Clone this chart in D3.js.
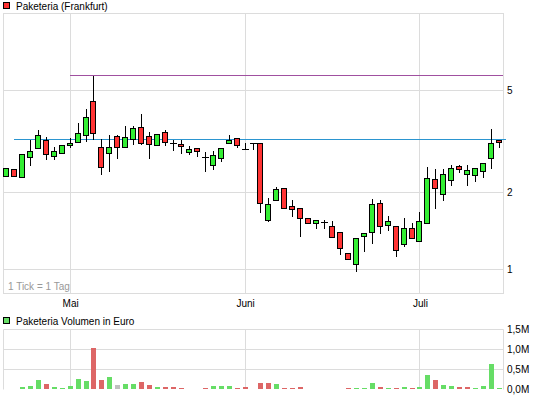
<!DOCTYPE html>
<html>
<head>
<meta charset="utf-8">
<script src="https://cdn.jsdelivr.net/npm/d3@7"></script>
<style>
  body { margin: 0; background: #fff; }
  svg { display: block; font-family: "Liberation Sans", Arial, sans-serif; font-size: 10px; }
</style>
</head>
<body>
<svg id="chart" width="545" height="398"></svg>
<script>
// daily OHLC (Euro), one entry per trading day
const open  = [2.32, 2.45, 2.30, 2.73, 2.97, 3.19, 2.76, 2.84, 3.05, 3.13, 3.34, 4.53, 2.99, 2.84, 3.31, 2.99,
               3.22, 3.58, 3.31, 3.05, 3.43, 3.12, 3.08, 2.86, 2.97, 2.75, 2.54, 2.71, 3.10, 3.25, 2.94, 3.10,
               3.10, 1.55, 1.86, 2.07, 1.77, 1.74, 1.59, 1.51, 1.53, 1.47, 1.40, 1.16, 1.05, 1.35, 1.40, 1.81,
               1.49, 1.47, 1.25, 1.45, 1.29, 1.52, 2.24, 1.96, 2.22, 2.52, 2.35, 2.33, 2.41, 2.71, 3.19];
const high  = [2.48, 2.45, 2.81, 3.20, 3.50, 3.29, 3.01, 3.05, 3.26, 3.72, 4.22, 5.69, 3.22, 3.34, 3.34, 3.62,
               3.62, 4.03, 3.43, 3.37, 3.49, 3.19, 3.20, 3.02, 2.97, 2.86, 2.89, 2.97, 3.34, 3.25, 3.10, 3.10,
               3.10, 1.89, 2.09, 2.07, 1.86, 1.74, 1.59, 1.55, 1.56, 1.54, 1.40, 1.16, 1.32, 1.39, 1.88, 1.86,
               1.62, 1.47, 1.58, 1.51, 1.67, 2.50, 2.45, 2.45, 2.54, 2.54, 2.54, 2.48, 2.59, 3.52, 3.19];
const low   = [2.32, 2.32, 2.30, 2.56, 2.97, 2.70, 2.70, 2.84, 2.99, 3.13, 3.16, 3.22, 2.35, 2.41, 2.71, 2.99,
               3.08, 3.08, 2.71, 3.05, 3.05, 2.91, 2.85, 2.81, 2.76, 2.42, 2.45, 2.64, 3.10, 2.99, 2.94, 2.94,
               1.67, 1.54, 1.86, 1.74, 1.61, 1.35, 1.52, 1.45, 1.45, 1.34, 1.15, 1.10, 0.98, 1.18, 1.27, 1.38,
               1.42, 1.13, 1.23, 1.32, 1.29, 1.52, 1.74, 1.87, 2.14, 2.39, 2.14, 2.20, 2.30, 2.48, 2.99];
const close = [2.48, 2.32, 2.81, 2.89, 3.34, 2.81, 2.89, 3.05, 3.10, 3.40, 3.92, 3.40, 2.50, 2.99, 2.99, 3.28,
               3.55, 3.10, 3.08, 3.37, 3.13, 3.12, 3.02, 2.94, 2.89, 2.75, 2.78, 2.97, 3.19, 3.05, 2.94, 3.10,
               1.82, 1.79, 2.05, 1.74, 1.71, 1.59, 1.52, 1.55, 1.53, 1.34, 1.21, 1.10, 1.32, 1.39, 1.79, 1.48,
               1.54, 1.19, 1.45, 1.32, 1.54, 2.26, 2.07, 2.35, 2.48, 2.45, 2.43, 2.48, 2.59, 3.10, 3.13];
// traded volume in Euro
const volume = [0, 0, 50000, 75000, 225000, 125000, 50000, 25000, 75000, 250000, 200000, 1025000, 225000, 300000, 100000, 125000,
                125000, 175000, 100000, 50000, 50000, 50000, 25000, 0, 0, 25000, 75000, 75000, 75000, 25000, 50000, 0,
                150000, 150000, 125000, 25000, 25000, 50000, 0, 0, 0, 0, 0, 25000, 25000, 25000, 150000, 50000,
                25000, 25000, 50000, 25000, 50000, 350000, 233000, 100000, 75000, 50000, 50000, 25000, 75000, 625000, 25000];

const monthLabels = ['Mai', 'Juni', 'Juli'];
const monthStart = [8, 30, 52];          // day index of first trading day
const priceTicks = [1, 2, 5];
const volumeTicks = [0, 500000, 1000000, 1500000];
const levelValues = [5.72, 3.23];        // drawn horizontal lines
const levelStart = [8, 1];

const svg = d3.select('#chart');
const main = { left: 3, right: 503, top: 13, bottom: 293 };
const vol = { top: 329, bottom: 389 };
const grid = '#dcdcdc';

const x = d3.scalePoint().domain(d3.range(open.length)).range([6.5, 499.5]);
const y = d3.scaleLog().domain([0.8, 10]).range([294.5, 13.5]);
const yv = d3.scaleLinear().domain([0, 1500000]).range([389.5, 329.5]);
const px = v => Math.floor(v) + 0.5;

// legends
svg.append('rect').attr('x', 3.5).attr('y', 2.5).attr('width', 6).attr('height', 6)
  .attr('fill', '#ff3333').attr('stroke', '#000');
svg.append('text').attr('x', 16).attr('y', 10).text('Paketeria (Frankfurt)');
svg.append('rect').attr('x', 3.5).attr('y', 317.5).attr('width', 6).attr('height', 6)
  .attr('fill', '#66dd66').attr('stroke', '#000');
svg.append('text').attr('x', 16).attr('y', 325).text('Paketeria Volumen in Euro');

// grid lines
const g = svg.append('g').attr('stroke', grid).attr('fill', 'none');
g.selectAll('.hp').data(priceTicks).join('line')
  .attr('x1', main.left).attr('x2', main.right)
  .attr('y1', d => px(y(d))).attr('y2', d => px(y(d)));
g.selectAll('.hv').data(volumeTicks.slice(1, 3)).join('line')
  .attr('x1', main.left).attr('x2', main.right)
  .attr('y1', d => px(yv(d))).attr('y2', d => px(yv(d)));
g.selectAll('.vm').data(monthStart).join('line')
  .attr('x1', d => px(x(d))).attr('x2', d => px(x(d)))
  .attr('y1', main.top).attr('y2', main.bottom);
g.selectAll('.vv').data(monthStart).join('line')
  .attr('x1', d => px(x(d))).attr('x2', d => px(x(d)))
  .attr('y1', vol.top).attr('y2', vol.bottom);
g.append('rect').attr('x', main.left + 0.5).attr('y', main.top + 0.5)
  .attr('width', main.right - main.left).attr('height', main.bottom - main.top);
g.append('polyline')
  .attr('points', `${main.left + 0.5},${vol.bottom + 0.5} ${main.left + 0.5},${vol.top + 0.5} ${main.right + 0.5},${vol.top + 0.5} ${main.right + 0.5},${vol.bottom + 0.5}`);

svg.append('text').attr('x', 8).attr('y', 290).attr('fill', '#999').text('1 Tick = 1 Tag');

// axes
const yAxis = svg.append('g').attr('transform', `translate(${main.right},0)`)
  .call(d3.axisRight(y).tickValues(priceTicks).tickSize(0).tickPadding(4).tickFormat(d3.format('d')));
const vAxis = svg.append('g').attr('transform', `translate(${main.right},0)`)
  .call(d3.axisRight(yv).tickValues(volumeTicks).tickSize(0).tickPadding(4)
    .tickFormat(d => (d / 1e6).toFixed(1).replace('.', ',') + 'M'));
const xAxis = svg.append('g').attr('transform', `translate(0,${main.bottom})`)
  .call(d3.axisBottom(x).tickValues(monthStart).tickSize(0).tickPadding(7)
    .tickFormat((d, i) => monthLabels[i]));
[yAxis, vAxis, xAxis].forEach(a => {
  a.select('.domain').remove();
  a.attr('font-family', null).attr('font-size', null);
  a.selectAll('text').attr('fill', '#000');
});

// volume bars, coloured by change of close vs previous day
const volColor = i => {
  if (i === 0 || close[i] === close[i - 1]) return '#c0c0c0';
  return close[i] > close[i - 1] ? '#66dd66' : '#dd6666';
};
svg.append('g').selectAll('rect')
  .data(d3.range(volume.length).filter(i => volume[i] > 0)).join('rect')
  .attr('x', i => Math.floor(x(i)) - 2)
  .attr('width', 5)
  .attr('y', i => Math.round(yv(volume[i]) - 0.5))
  .attr('height', i => vol.bottom - Math.round(yv(volume[i]) - 0.5))
  .attr('fill', volColor);

// level lines
const lineColors = ['#a050a0', '#2b95d0'];
svg.append('g').selectAll('line').data(levelValues).join('line')
  .attr('x1', (d, i) => Math.floor(x(levelStart[i])))
  .attr('x2', (d, i) => i === 0 ? main.right : main.right + 3)
  .attr('y1', d => px(y(d))).attr('y2', d => px(y(d)))
  .attr('stroke', (d, i) => lineColors[i]);

// candles
const days = d3.range(open.length);
const candles = svg.append('g');
candles.selectAll('.wick').data(days).join('line')
  .attr('x1', i => Math.floor(x(i)) + 0.5).attr('x2', i => Math.floor(x(i)) + 0.5)
  .attr('y1', i => Math.floor(y(high[i]))).attr('y2', i => Math.floor(y(low[i])) + 1)
  .attr('stroke', '#000');
candles.selectAll('.body').data(days.filter(i => px(y(open[i])) !== px(y(close[i])))).join('rect')
  .attr('x', i => Math.floor(x(i)) - 2.5)
  .attr('width', 5)
  .attr('y', i => px(y(Math.max(open[i], close[i]))))
  .attr('height', i => px(y(Math.min(open[i], close[i]))) - px(y(Math.max(open[i], close[i]))))
  .attr('fill', i => close[i] > open[i] ? '#33ee33' : '#ff3333')
  .attr('stroke', '#000');
candles.selectAll('.doji').data(days.filter(i => px(y(open[i])) === px(y(close[i])))).join('line')
  .attr('x1', i => Math.floor(x(i)) - 3).attr('x2', i => Math.floor(x(i)) + 4)
  .attr('y1', i => px(y(open[i]))).attr('y2', i => px(y(open[i])))
  .attr('stroke', '#000');
</script>
</body>
</html>
